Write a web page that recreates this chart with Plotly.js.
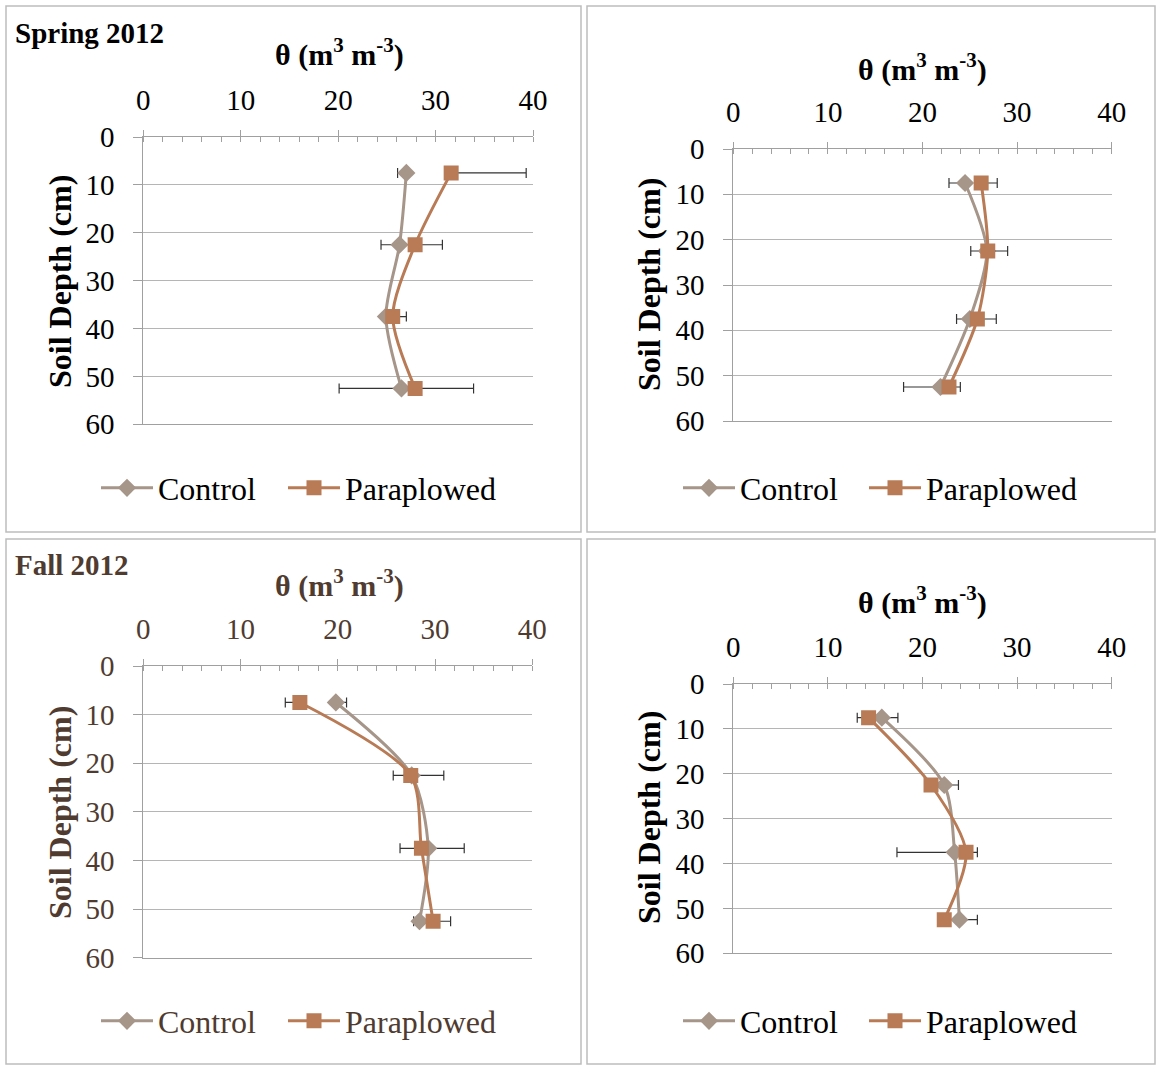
<!DOCTYPE html>
<html>
<head>
<meta charset="utf-8">
<script src="https://cdn.plot.ly/plotly-3.0.1.min.js"></script>
<style>html,body{margin:0;padding:0;background:#fff;}#chart{width:1158px;height:1066px;}</style>
</head>
<body>
<div id="chart"></div>
<script>
// ---- data ----
const depth = [7.5, 22.5, 37.5, 52.5];
const seriesNames = ["Control", "Paraplowed"];
const xTicks = [0, 10, 20, 30, 40];
const yTicks = [0, 10, 20, 30, 40, 50, 60];

// Spring 2012, left
const springL_control = [27.0, 26.3, 24.9, 26.5];
const springL_controlErrMinus = [0.9, 1.9, 0.1, 6.4];
const springL_controlErrPlus = [0, 0, 0, 0];
const springL_para = [31.6, 27.9, 25.6, 27.9];
const springL_paraErrMinus = [0, 0, 0, 0];
const springL_paraErrPlus = [7.7, 2.8, 1.4, 6.0];

// Spring 2012, right
const springR_control = [24.5, 26.8, 25.0, 21.9];
const springR_controlErrMinus = [1.7, 1.7, 1.4, 3.9];
const springR_controlErrPlus = [0, 0, 0, 0];
const springR_para = [26.2, 26.9, 25.8, 22.8];
const springR_paraErrMinus = [0, 0, 0, 0];
const springR_paraErrPlus = [1.7, 2.1, 2.0, 1.2];

// Fall 2012, left
const fallL_control = [19.8, 27.6, 29.3, 28.4];
const fallL_controlErrMinus = [0, 0, 0, 0.6];
const fallL_controlErrPlus = [1.1, 3.3, 3.7, 0];
const fallL_para = [16.1, 27.5, 28.6, 29.8];
const fallL_paraErrMinus = [1.5, 1.8, 2.2, 0];
const fallL_paraErrPlus = [0, 0, 0, 1.8];

// Fall 2012, right
const fallR_control = [15.7, 22.3, 23.4, 23.9];
const fallR_controlErrMinus = [0, 0, 6.1, 0];
const fallR_controlErrPlus = [1.7, 1.5, 0, 1.9];
const fallR_para = [14.3, 20.9, 24.6, 22.3];
const fallR_paraErrMinus = [1.2, 0, 0, 0];
const fallR_paraErrPlus = [0, 0, 1.2, 0];

// ---- styling / layout ----
const W = 1158, H = 1066;
const FONT = '"Liberation Serif", "Times New Roman", serif';
const BLACK = '#000000';
const BROWN = '#4f3b30';
const C_CONTROL = '#a69589';
const C_PARA = '#b87b56';
const AXIS = '#a0a0a0';
const GRID = '#b5b5b5';

const px = v => v / W;
const py = v => 1 - v / H;

const panels = [
  {ctrl: springL_control, cM: springL_controlErrMinus, cP: springL_controlErrPlus,
   para: springL_para, pM: springL_paraErrMinus, pP: springL_paraErrPlus,
   x0: 143.3, x1: 533, y0: 137, y1: 424.3, color: BLACK,
   title: 'Spring 2012', titlePos: [13, 33], thetaPos: [339, 52], ytPos: [60, 281],
   legX: [96, 283], legY: 488},
  {ctrl: springR_control, cM: springR_controlErrMinus, cP: springR_controlErrPlus,
   para: springR_para, pM: springR_paraErrMinus, pP: springR_paraErrPlus,
   x0: 733.3, x1: 1111.7, y0: 149, y1: 421, color: BLACK,
   title: null, thetaPos: [922, 67], ytPos: [649, 285],
   legX: [678, 864], legY: 488},
  {ctrl: fallL_control, cM: fallL_controlErrMinus, cP: fallL_controlErrPlus,
   para: fallL_para, pM: fallL_paraErrMinus, pP: fallL_paraErrPlus,
   x0: 143.3, x1: 532.3, y0: 666, y1: 957.7, color: BROWN,
   title: 'Fall 2012', titlePos: [13, 565], thetaPos: [339, 583], ytPos: [60, 812],
   legX: [96, 283], legY: 1021},
  {ctrl: fallR_control, cM: fallR_controlErrMinus, cP: fallR_controlErrPlus,
   para: fallR_para, pM: fallR_paraErrMinus, pP: fallR_paraErrPlus,
   x0: 733.3, x1: 1111.7, y0: 684, y1: 953.3, color: BLACK,
   title: null, thetaPos: [922, 600], ytPos: [649, 818],
   legX: [678, 864], legY: 1021}
];

const traces = [];
const layout = {
  width: W, height: H,
  margin: {l: 0, r: 0, t: 0, b: 0},
  paper_bgcolor: '#ffffff', plot_bgcolor: 'rgba(0,0,0,0)',
  font: {family: FONT, color: BLACK},
  showlegend: true,
  annotations: [],
  shapes: []
};

const boxes = [[6, 6, 581, 532], [587, 6, 1155, 532], [6, 539, 581, 1064], [587, 539, 1155, 1064]];
boxes.forEach(b => {
  layout.shapes.push({type: 'rect', xref: 'paper', yref: 'paper', layer: 'below',
    x0: px(b[0]), x1: px(b[2]), y0: py(b[1]), y1: py(b[3]),
    line: {color: '#bdbdbd', width: 1.5}, fillcolor: 'rgba(0,0,0,0)'});
});

let legCount = 0;
function legendName() {
  legCount += 1;
  return legCount === 1 ? 'legend' : 'legend' + legCount;
}

panels.forEach((p, i) => {
  const n = i + 1;
  const xa = n === 1 ? 'xaxis' : 'xaxis' + n;
  const ya = n === 1 ? 'yaxis' : 'yaxis' + n;
  const xr = n === 1 ? 'x' : 'x' + n;
  const yr = n === 1 ? 'y' : 'y' + n;

  layout[xa] = {
    domain: [px(p.x0), px(p.x1)], anchor: yr, side: 'top',
    range: [0, 40], tickvals: xTicks, ticktext: xTicks.map(String),
    showgrid: false, zeroline: false, showline: true, mirror: true, linecolor: AXIS, linewidth: 1,
    ticks: 'outside', ticklen: 6, tickcolor: AXIS, tickwidth: 1,
    minor: {ticks: 'inside', dtick: 2, ticklen: 5, tickcolor: AXIS, tickwidth: 1, showgrid: false},
    tickfont: {family: FONT, size: 29, color: p.color},
    ticklabelstandoff: 8,
    fixedrange: true
  };
  layout[ya] = {
    domain: [py(p.y1), py(p.y0)], anchor: xr,
    range: [60, 0], tickvals: yTicks, ticktext: yTicks.map(String),
    showgrid: true, gridcolor: GRID, gridwidth: 1,
    zeroline: false, showline: true, linecolor: AXIS, linewidth: 1,
    ticks: 'outside', ticklen: 9, tickcolor: AXIS, tickwidth: 1,
    tickfont: {family: FONT, size: 29, color: p.color},
    ticklabelstandoff: 13,
    fixedrange: true
  };

  const legC = legendName();
  const legP = legendName();
  [legC, legP].forEach((lg, k) => {
    layout[lg] = {
      orientation: 'h', x: px(p.legX[k]), xanchor: 'left', y: py(p.legY), yanchor: 'middle',
      font: {family: FONT, size: 32, color: p.color}, bgcolor: 'rgba(0,0,0,0)',
      itemwidth: 52, itemclick: false, itemdoubleclick: false
    };
  });

  const common = {xaxis: xr, yaxis: yr, mode: 'lines+markers', showlegend: true, hoverinfo: 'skip'};
  traces.push(Object.assign({}, common, {
    name: seriesNames[0], x: p.ctrl, y: depth, legend: legC,
    line: {color: C_CONTROL, width: 3, shape: 'spline', smoothing: 0.8},
    marker: {symbol: 'diamond', size: 14, color: C_CONTROL},
    error_x: {type: 'data', symmetric: false, array: p.cP, arrayminus: p.cM,
      color: '#333333', thickness: 1.2, width: 5}
  }));
  traces.push(Object.assign({}, common, {
    name: seriesNames[1], x: p.para, y: depth, legend: legP,
    line: {color: C_PARA, width: 3, shape: 'spline', smoothing: 0.8},
    marker: {symbol: 'square', size: 15, color: C_PARA},
    error_x: {type: 'data', symmetric: false, array: p.pP, arrayminus: p.pM,
      color: '#333333', thickness: 1.2, width: 5}
  }));

  if (p.title) {
    layout.annotations.push({xref: 'paper', yref: 'paper', x: px(p.titlePos[0]), y: py(p.titlePos[1]),
      xanchor: 'left', yanchor: 'middle', showarrow: false, text: p.title,
      font: {family: FONT, size: 29, weight: 'bold', color: p.color}});
  }
  layout.annotations.push({xref: 'paper', yref: 'paper', x: px(p.thetaPos[0]), y: py(p.thetaPos[1]),
    xanchor: 'center', yanchor: 'middle', showarrow: false,
    text: 'θ (m<sup>3</sup> m<sup>-3</sup>)',
    font: {family: FONT, size: 30, weight: 'bold', color: p.color}});
  layout.annotations.push({xref: 'paper', yref: 'paper', x: px(p.ytPos[0]), y: py(p.ytPos[1]),
    xanchor: 'center', yanchor: 'middle', showarrow: false, textangle: -90,
    text: 'Soil Depth (cm)',
    font: {family: FONT, size: 32, weight: 'bold', color: p.color}});
});

Plotly.newPlot('chart', traces, layout, {displayModeBar: false, staticPlot: true});
</script>
</body>
</html>
